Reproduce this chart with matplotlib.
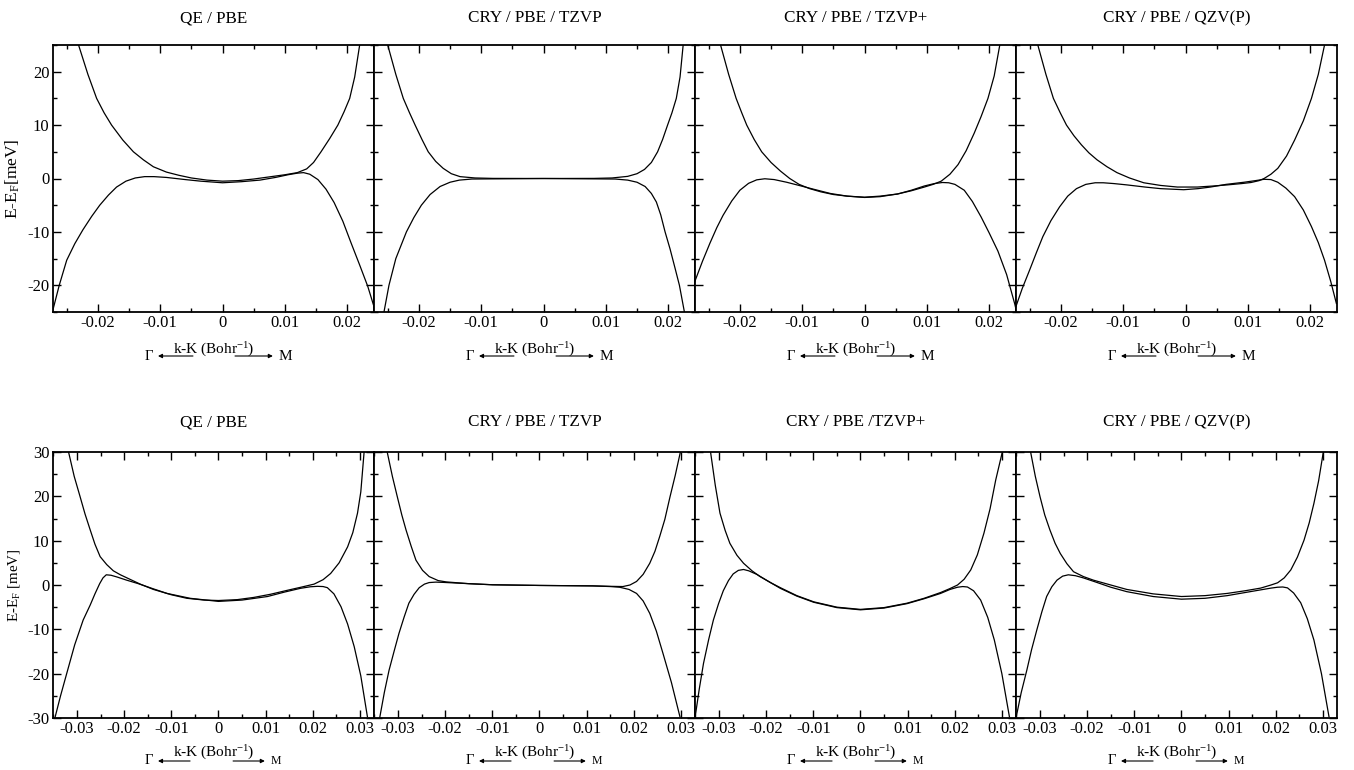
import matplotlib
matplotlib.use('Agg')
import matplotlib.pyplot as plt
from matplotlib.ticker import MultipleLocator, FuncFormatter
from matplotlib.transforms import ScaledTranslation

plt.rcParams['font.family'] = 'Liberation Serif'
plt.rcParams['mathtext.fontset'] = 'custom'
plt.rcParams['mathtext.rm'] = 'Liberation Serif'
plt.rcParams['mathtext.it'] = 'Liberation Serif:italic'
plt.rcParams['axes.unicode_minus'] = False

# ---- Daten, k-K in Bohr^-1, E-E_F in meV ----
top_titles = ["QE / PBE", "CRY / PBE / TZVP", "CRY / PBE / TZVP+", "CRY / PBE / QZV(P)"]
bot_titles = ["QE / PBE", "CRY / PBE / TZVP", "CRY / PBE /TZVP+", "CRY / PBE / QZV(P)"]

# obere Reihe
t1_cb_k = [-0.0231, -0.0216, -0.0202, -0.0190, -0.0178, -0.0160, -0.0143, -0.0127, -0.0111, -0.0090, -0.0070, -0.0050,
           -0.0025, 0.0, 0.0025, 0.0050, 0.0075, 0.0100, 0.0120, 0.0135, 0.0146, 0.0158, 0.0172, 0.0185, 0.0195, 0.0204,
           0.0212, 0.0220]
t1_cb_e = [25, 19.5, 15.0, 12.3, 10.0, 7.2, 5.0, 3.5, 2.2, 1.2, 0.6, 0.1,
           -0.3, -0.5, -0.4, -0.1, 0.3, 0.7, 1.1, 1.8, 3.0, 5.0, 7.5, 10.0, 12.5, 15.0,
           19.0, 25]
t1_vb_k = [-0.0273, -0.0262, -0.0250, -0.0237, -0.0224, -0.0210, -0.0197, -0.0183, -0.0170, -0.0155, -0.0140, -0.0125,
           -0.0110, -0.0090, -0.0060, -0.0035, 0.0, 0.0030, 0.0060, 0.0085, 0.0105, 0.0120, 0.0130, 0.0140, 0.0153,
           0.0166, 0.0179, 0.0193, 0.0206, 0.0220, 0.0233, 0.0243]
t1_vb_e = [-25, -20, -15.3, -12.2, -9.6, -7.1, -5.0, -3.1, -1.6, -0.5, 0.1, 0.35,
           0.35, 0.2, -0.2, -0.5, -0.8, -0.6, -0.3, 0.2, 0.7, 1.0, 1.1, 0.8, -0.2,
           -2.0, -4.5, -8.0, -12.0, -16.2, -20.2, -24.0]

t2_cb_k = [-0.0250, -0.0237, -0.0225, -0.0215, -0.0206, -0.0195, -0.0185, -0.0173, -0.0161, -0.0148, -0.0134, -0.0110,
           -0.0081, 0.0, 0.0081, 0.0110, 0.0135, 0.0150, 0.0162, 0.0173, 0.0183, 0.0191, 0.0199, 0.0206, 0.0213,
           0.0219, 0.0224]
t2_cb_e = [25, 19.5, 15, 12.3, 10, 7.3, 5.0, 3.2, 1.9, 0.9, 0.35, 0.1,
           0.02, 0.0, 0.02, 0.1, 0.4, 0.9, 1.7, 3.0, 5.0, 7.3, 10, 12.3, 15,
           19, 25]
t2_vb_k = [-0.0256, -0.0248, -0.0237, -0.0220, -0.0208, -0.0196, -0.0182, -0.0166, -0.0150, -0.0135, -0.0115, 0.0,
           0.0115, 0.0135, 0.0150, 0.0163, 0.0173, 0.0181, 0.0188, 0.0195, 0.0203, 0.0211, 0.0218, 0.0226]
t2_vb_e = [-25, -20, -15, -10, -7.3, -5.0, -3.0, -1.5, -0.7, -0.3, -0.1, 0.0,
           -0.1, -0.3, -0.7, -1.5, -2.8, -4.4, -6.8, -10, -13.2, -16.8, -20, -25]

t3_cb_k = [-0.0231, -0.0218, -0.0206, -0.0197, -0.0189, -0.0177, -0.0165, -0.0150, -0.0135, -0.0120, -0.0105, -0.0088,
           -0.0070, -0.0050, -0.0028, 0.0, 0.0025, 0.0053, 0.0075, 0.0096, 0.0110, 0.0123, 0.0137, 0.0150, 0.0163,
           0.0176, 0.0187, 0.0198, 0.0208, 0.0217]
t3_cb_e = [25, 19.5, 15, 12.3, 10, 7.3, 5.0, 3.0, 1.4, 0.0, -1.1, -1.9,
           -2.5, -3.0, -3.3, -3.5, -3.3, -2.9, -2.3, -1.6, -1.1, -0.5, 0.8, 2.6, 5.2,
           8.5, 11.6, 15, 19.2, 25]
t3_vb_k = [-0.0273, -0.0260, -0.0248, -0.0237, -0.0227, -0.0213, -0.0200, -0.0186, -0.0173, -0.0160, -0.0145, -0.0125,
           -0.0105, -0.0082, -0.0055, -0.0028, 0.0, 0.0025, 0.0053, 0.0075, 0.0096, 0.0112, 0.0125, 0.0135, 0.0145,
           0.0160, 0.0173, 0.0187, 0.0200, 0.0214, 0.0228, 0.0241, 0.0244]
t3_vb_e = [-19.5, -15.5, -12.1, -9.2, -6.9, -4.2, -2.2, -0.9, -0.25, -0.05, -0.2, -0.7,
           -1.3, -2.0, -2.8, -3.3, -3.55, -3.4, -2.9, -2.2, -1.4, -0.95, -0.75, -0.8, -1.1,
           -2.2, -4.3, -7.2, -10.2, -13.6, -18.0, -23.5, -25]

t4_cb_k = [-0.0237, -0.0224, -0.0212, -0.0201, -0.0191, -0.0179, -0.0167, -0.0155, -0.0142, -0.0126, -0.0110, -0.0090,
           -0.0067, -0.0040, -0.0013, 0.0019, 0.0045, 0.0067, 0.0090, 0.0105, 0.0118, 0.0126, 0.0137, 0.0148, 0.0162,
           0.0175, 0.0189, 0.0202, 0.0213, 0.0223]
t4_cb_e = [25, 19.5, 15, 12.3, 10, 8.0, 6.3, 4.8, 3.5, 2.2, 1.1, 0.1,
           -0.8, -1.3, -1.6, -1.6, -1.4, -1.2, -0.95, -0.75, -0.4, 0.0, 0.8, 1.9, 4.2,
           7.2, 10.8, 15, 19.5, 25]
t4_vb_k = [-0.0274, -0.0262, -0.0250, -0.0239, -0.0229, -0.0216, -0.0202, -0.0189, -0.0175, -0.0160, -0.0145, -0.0132,
           -0.0115, -0.0094, -0.0065, -0.0040, -0.0003, 0.0020, 0.0040, 0.0065, 0.0094, 0.0112, 0.0126, 0.0137, 0.0148,
           0.0161, 0.0175, 0.0189, 0.0202, 0.0213, 0.0223, 0.0233, 0.0242]
t4_vb_e = [-24.6, -20.6, -17.1, -13.8, -10.9, -7.9, -5.3, -3.3, -1.9, -1.1, -0.8, -0.8,
           -0.95, -1.2, -1.6, -1.9, -2.1, -1.9, -1.6, -1.1, -0.7, -0.4, -0.15, -0.2, -0.7,
           -1.8, -3.4, -5.9, -9.0, -12.0, -15.3, -19.3, -23.4]

# untere Reihe
b1_cb_k = [-0.0318, -0.0306, -0.0294, -0.0283, -0.0272, -0.0262, -0.0251, -0.0237, -0.0223, -0.0208, -0.0194, -0.0166,
           -0.0138, -0.0100, -0.0067, -0.0030, 0.0, 0.0040, 0.0075, 0.0110, 0.0146, 0.0175, 0.0203, 0.0222, 0.0238,
           0.0256, 0.0274, 0.0285, 0.0295, 0.0302, 0.0309]
b1_cb_e = [30, 24.5, 20.1, 16.0, 12.4, 9.2, 6.4, 4.6, 3.2, 2.3, 1.6, 0.2,
           -1.0, -2.2, -3.0, -3.4, -3.5, -3.3, -2.8, -2.1, -1.2, -0.5, 0.2, 1.2, 2.6,
           5.0, 8.6, 11.8, 16.2, 21.0, 30]
b1_vb_k = [-0.0347, -0.0335, -0.0322, -0.0305, -0.0287, -0.0272, -0.0262, -0.0252, -0.0245, -0.0238, -0.0228, -0.0215,
           -0.0195, -0.0170, -0.0140, -0.0109, -0.0060, 0.0, 0.0050, 0.0104, 0.0140, 0.0174, 0.0195, 0.0210, 0.0222,
           0.0231, 0.0245, 0.0260, 0.0274, 0.0288, 0.0302, 0.0316]
b1_vb_e = [-30, -25, -20, -13.5, -7.9, -4.5, -2.0, 0.3, 1.6, 2.3, 2.2, 1.8,
           1.1, 0.3, -0.8, -1.9, -3.0, -3.7, -3.4, -2.6, -1.6, -0.75, -0.4, -0.3, -0.35,
           -0.6, -2.0, -4.9, -8.8, -13.9, -20.5, -29.7]

b2_cb_k = [-0.0323, -0.0312, -0.0302, -0.0292, -0.0283, -0.0272, -0.0262, -0.0248, -0.0234, -0.0215, -0.0198, -0.0150,
           -0.0099, 0.0, 0.0113, 0.0150, 0.0177, 0.0192, 0.0206, 0.0220, 0.0234, 0.0245, 0.0255, 0.0266, 0.0277,
           0.0288, 0.0299]
b2_cb_e = [30, 24.5, 20.1, 15.8, 12.4, 8.7, 5.6, 3.3, 1.9, 1.0, 0.7, 0.3,
           0.05, -0.1, -0.2, -0.3, -0.35, 0.0, 0.8, 2.4, 4.9, 7.6, 10.9, 14.8, 19.9,
           24.7, 30]
b2_vb_k = [-0.0339, -0.0329, -0.0319, -0.0308, -0.0298, -0.0287, -0.0277, -0.0266, -0.0255, -0.0244, -0.0234, -0.0220,
           -0.0206, -0.0150, -0.0099, 0.0, 0.0113, 0.0150, 0.0170, 0.0190, 0.0206, 0.0220, 0.0234, 0.0248, 0.0262,
           0.0280, 0.0298]
b2_vb_e = [-30, -24.2, -19.2, -14.8, -10.9, -7.2, -4.1, -2.1, -0.6, 0.2, 0.55, 0.65,
           0.6, 0.3, 0.05, -0.1, -0.2, -0.35, -0.5, -1.0, -1.9, -3.6, -6.4, -10.4, -15.4,
           -22.0, -29.7]

b3_cb_k = [-0.0318, -0.0308, -0.0298, -0.0287, -0.0277, -0.0262, -0.0248, -0.0230, -0.0213, -0.0190, -0.0170, -0.0135,
           -0.0099, -0.0050, 0.0, 0.0050, 0.0099, 0.0135, 0.0170, 0.0190, 0.0206, 0.0220, 0.0234, 0.0248, 0.0262,
           0.0275, 0.0287, 0.0301]
b3_cb_e = [30, 22.5, 16.2, 12.3, 9.4, 6.7, 4.9, 3.2, 1.9, 0.5, -0.6, -2.4,
           -3.8, -5.0, -5.5, -5.1, -4.1, -3.0, -1.7, -0.8, 0.0, 1.3, 3.4, 6.8, 11.7,
           17.2, 23.7, 30]
b3_vb_k = [-0.0351, -0.0342, -0.0333, -0.0322, -0.0312, -0.0301, -0.0291, -0.0280, -0.0270, -0.0259, -0.0248, -0.0237,
           -0.0220, -0.0195, -0.0170, -0.0135, -0.0099, -0.0050, 0.0, 0.0050, 0.0099, 0.0135, 0.0170, 0.0190, 0.0206,
           0.0217, 0.0227, 0.0240, 0.0255, 0.0270, 0.0284, 0.0300, 0.0316]
b3_vb_e = [-30, -23.5, -17.7, -12.3, -7.9, -4.2, -1.3, 1.0, 2.5, 3.3, 3.5, 3.2,
           2.4, 0.8, -0.75, -2.5, -3.9, -5.1, -5.6, -5.2, -4.2, -3.1, -1.9, -1.0, -0.5,
           -0.35, -0.45, -1.3, -3.4, -7.3, -12.4, -20.0, -29.7]

b4_cb_k = [-0.0320, -0.0310, -0.0300, -0.0290, -0.0279, -0.0268, -0.0257, -0.0243, -0.0229, -0.0208, -0.0187, -0.0150,
           -0.0116, -0.0060, 0.0, 0.0050, 0.0097, 0.0135, 0.0168, 0.0190, 0.0204, 0.0218, 0.0232, 0.0246, 0.0260,
           0.0271, 0.0281, 0.0291, 0.0301]
b4_cb_e = [30, 24.5, 19.9, 15.8, 12.4, 9.4, 7.1, 4.8, 3.0, 1.9, 1.1, 0.0,
           -1.0, -2.0, -2.6, -2.4, -1.9, -1.3, -0.7, 0.0, 0.5, 1.6, 3.4, 6.3, 10.1,
           14.0, 18.4, 23.5, 30]
b4_vb_k = [-0.0351, -0.0340, -0.0328, -0.0318, -0.0307, -0.0296, -0.0286, -0.0275, -0.0264, -0.0252, -0.0240, -0.0225,
           -0.0208, -0.0180, -0.0150, -0.0116, -0.0060, 0.0, 0.0050, 0.0097, 0.0135, 0.0168, 0.0190, 0.0204, 0.0215,
           0.0225, 0.0238, 0.0253, 0.0267, 0.0281, 0.0297, 0.0313]
b4_vb_e = [-30, -24.3, -19.2, -14.6, -10.2, -6.0, -2.6, -0.4, 1.1, 2.0, 2.3, 2.1,
           1.6, 0.6, -0.5, -1.5, -2.6, -3.2, -3.0, -2.4, -1.7, -1.1, -0.7, -0.5, -0.45,
           -0.65, -1.8, -4.0, -7.6, -12.4, -20.0, -29.7]

top_bands = [
    [(t1_cb_k, t1_cb_e), (t1_vb_k, t1_vb_e)],
    [(t2_cb_k, t2_cb_e), (t2_vb_k, t2_vb_e)],
    [(t3_cb_k, t3_cb_e), (t3_vb_k, t3_vb_e)],
    [(t4_cb_k, t4_cb_e), (t4_vb_k, t4_vb_e)],
]
bot_bands = [
    [(b1_cb_k, b1_cb_e), (b1_vb_k, b1_vb_e)],
    [(b2_cb_k, b2_cb_e), (b2_vb_k, b2_vb_e)],
    [(b3_cb_k, b3_cb_e), (b3_vb_k, b3_vb_e)],
    [(b4_cb_k, b4_cb_e), (b4_vb_k, b4_vb_e)],
]


def k_fmt(v, pos):
    if abs(v) < 1e-9:
        return '0'
    return '%g' % round(v, 4)


fig = plt.figure(figsize=(13.54, 7.70), dpi=100)
W, H = 1354.0, 770.0


def draw_row(bands, titles, top_px, bot_px, xlim, ylim, ylabel, ylab_size, title_pad,
             lab_dy, sym_dy, arr, sym_size):
    for i in range(4):
        left = 53 + i * 321
        ax = fig.add_axes([left / W, 1 - bot_px / H, 321 / W, (bot_px - top_px) / H])
        for k, e in bands[i]:
            ax.plot(k, e, color='black', lw=0.9, solid_joinstyle='round')
        ax.set_xlim(*xlim)
        ax.set_ylim(*ylim)
        ax.xaxis.set_major_locator(MultipleLocator(0.01))
        ax.xaxis.set_minor_locator(MultipleLocator(0.005))
        ax.yaxis.set_major_locator(MultipleLocator(10))
        ax.yaxis.set_minor_locator(MultipleLocator(5))
        ax.xaxis.set_major_formatter(FuncFormatter(k_fmt))
        ax.tick_params(which='both', direction='in', top=True, right=True,
                       labelsize=12, pad=2.5, width=1.0)
        ax.tick_params(which='major', length=6)
        ax.tick_params(which='minor', length=3)
        for s in ax.spines.values():
            s.set_linewidth(1.3)
        if i == 0:
            ax.set_ylabel(ylabel, fontsize=ylab_size)
            ax.yaxis.set_label_coords((22 - 53) / 321, 0.5)
        else:
            ax.set_yticklabels([])
        ax.set_title(titles[i], fontsize=12.3, pad=title_pad)

        # Achsenbeschriftung mit Pfeilen Gamma <- -> M
        tr_lab = ax.transAxes + ScaledTranslation(0, -lab_dy / 100, fig.dpi_scale_trans)
        tr_sym = ax.transAxes + ScaledTranslation(0, -sym_dy / 100, fig.dpi_scale_trans)
        ax.text(0.5, 0, 'k-K (Bohr$^{\\mathregular{-1}}$)', transform=tr_lab,
                ha='center', va='center', fontsize=11)
        g_x, g_head, g_tail, m_tail, m_head, m_x = arr
        ax.text(g_x, 0, '\u0393', transform=tr_sym, ha='center', va='center', fontsize=10.5)
        ax.text(m_x, 0, 'M', transform=tr_sym, ha='center', va='center', fontsize=sym_size)
        for a, b in [(g_head, g_tail), (m_head, m_tail)]:
            ax.annotate('', xy=(a, 0), xycoords=tr_sym, xytext=(b, 0), textcoords=tr_sym,
                        annotation_clip=False,
                        arrowprops=dict(arrowstyle='-|>', lw=0.8, color='black',
                                        mutation_scale=6, shrinkA=0, shrinkB=0))


draw_row(top_bands, top_titles, 45, 312, (-0.0272, 0.0243), (-25, 25),
         'E-E$_\\mathregular{F}$[meV]', 12.5, 16.5, 38, 44,
         (0.299, 0.327, 0.436, 0.567, 0.685, 0.723), 11)
draw_row(bot_bands, bot_titles, 452, 718, (-0.0351, 0.0330), (-30, 30),
         'E-E$_\\mathregular{F}$ [meV]', 10.8, 18.5, 35, 43,
         (0.299, 0.327, 0.427, 0.561, 0.660, 0.695), 8.5)

plt.savefig('out.png', dpi=100)
